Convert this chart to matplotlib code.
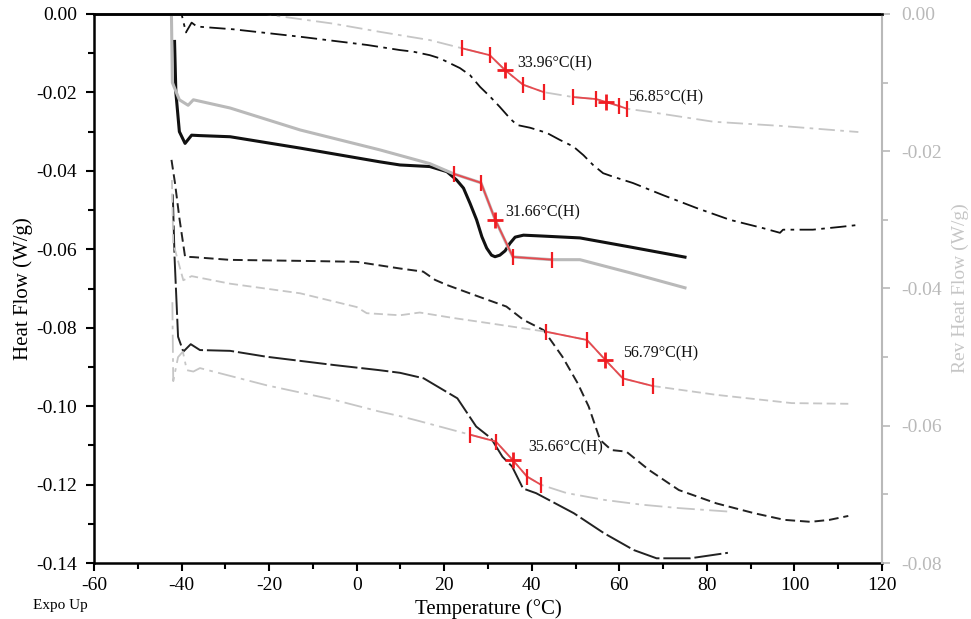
import matplotlib
matplotlib.use("Agg")
import matplotlib.pyplot as plt
from matplotlib.ticker import MultipleLocator, FuncFormatter

plt.rcParams['font.family'] = ['Liberation Serif', 'DejaVu Serif']
plt.rcParams['axes.unicode_minus'] = False

# ---------------- data ----------------
# Sample 1 (dash-dot)
t1_hf = [-40.6, -40.0, -39.0, -37.7, -36.5, -28.2, -12.9, 2.4, 9.9, 12.9, 16.7, 19.0, 23.6, 25.9, 28.2,
         30.5, 32.7, 35.0, 36.6, 39.6, 43.4, 46.4, 49.5, 51.8, 54.0, 56.3, 58.6, 63.1, 70.0, 77.7, 85.3,
         92.8, 96.7, 97.4, 104.2, 110.4, 114.5]
hf1 = [0.003, 0.0, -0.0047, -0.0022, -0.0032, -0.0039, -0.0058, -0.0079, -0.0092, -0.0096, -0.0105,
       -0.0113, -0.0138, -0.0156, -0.0186, -0.0211, -0.0237, -0.0266, -0.0283, -0.0290, -0.0303,
       -0.0321, -0.0338, -0.0360, -0.0385, -0.0406, -0.0415, -0.0431, -0.0462, -0.0495, -0.0525,
       -0.0546, -0.0558, -0.0550, -0.0550, -0.0543, -0.0538]
t1_rev = [-30.0, -19.1, -5.4, 5.3, 16.7, 24.1, 30.4, 34.0, 38.0, 42.8, 49.4, 54.7, 56.9, 59.9, 61.7,
          66.2, 81.5, 96.7, 114.6]
rev1 = [0.0012, -0.0002, -0.0014, -0.0026, -0.0038, -0.0050, -0.0060, -0.0083, -0.0103, -0.0114,
        -0.0121, -0.0124, -0.0128, -0.0134, -0.0138, -0.0142, -0.0157, -0.0163, -0.0172]

# Sample 2 (solid)
t2_hf = [-41.6, -41.3, -40.5, -39.2, -37.7, -36.0, -28.9, -12.9, 5.3, 9.9, 16.7, 20.6, 22.8, 24.4, 25.9,
         27.4, 28.6, 29.7, 30.8, 31.6, 32.7, 33.9, 35.0, 36.2, 38.1, 42.0, 51.0, 62.4, 75.0]
hf2 = [-0.007, -0.020, -0.030, -0.0330, -0.0309, -0.0310, -0.0313, -0.0342, -0.0377, -0.0385, -0.0389,
       -0.0402, -0.0423, -0.0444, -0.0483, -0.0525, -0.0568, -0.0597, -0.0615, -0.0619, -0.0615,
       -0.0604, -0.0585, -0.0569, -0.0564, -0.0566, -0.0571, -0.0594, -0.0620]
t2_rev = [-42.3, -42.1, -40.5, -38.5, -37.3, -28.9, -12.9, 5.3, 16.7, 22.2, 28.4, 31.66, 34.6, 35.7,
          44.6, 51.0, 62.4, 75.0]
rev2 = [-0.0005, -0.0100, -0.0125, -0.0133, -0.0125, -0.0137, -0.0169, -0.0198, -0.0218, -0.0233,
        -0.0246, -0.0300, -0.0340, -0.0354, -0.0358, -0.0358, -0.0377, -0.0399]

# Sample 3 (dashed)
t3_hf = [-42.3, -41.5, -40.5, -39.2, -37.3, -28.9, -10.0, 0.0, 9.9, 15.2, 17.9, 20.6, 28.2, 34.2, 38.1,
         42.7, 47.0, 50.5, 53.0, 55.6, 58.2, 61.6, 66.8, 73.6, 82.2, 90.8, 97.7, 103.7, 108.0, 112.3]
hf3 = [-0.0372, -0.0431, -0.0520, -0.0619, -0.0620, -0.0627, -0.0630, -0.0632, -0.0649, -0.0657,
       -0.0678, -0.0691, -0.0722, -0.0746, -0.0780, -0.0806, -0.0874, -0.0942, -0.1001, -0.1086,
       -0.1112, -0.1116, -0.1163, -0.1214, -0.1248, -0.1273, -0.1290, -0.1295, -0.1290, -0.1280]
t3_rev = [-42.2, -41.9, -39.6, -37.7, -28.9, -12.9, 0.0, 2.3, 9.9, 14.4, 22.1, 30.7, 43.3, 52.6, 56.79,
          60.8, 67.6, 82.2, 99.4, 112.3]
rev3 = [-0.0242, -0.0334, -0.0388, -0.0382, -0.0393, -0.0407, -0.0427, -0.0436, -0.0439, -0.0435,
        -0.0443, -0.0451, -0.0463, -0.0475, -0.0504, -0.0531, -0.0542, -0.0555, -0.0567, -0.0568]

# Sample 4 (long dash)
t4_hf = [-42.0, -41.6, -40.8, -39.6, -37.9, -35.8, -28.9, -20.6, -5.3, 5.0, 9.9, 15.3, 23.0, 27.3, 30.7,
         33.3, 35.5, 38.0, 41.0, 49.6, 56.5, 63.3, 68.5, 76.2, 84.8]
hf4 = [-0.046, -0.062, -0.0823, -0.0861, -0.0842, -0.0857, -0.0859, -0.0874, -0.0895, -0.0908, -0.0915,
       -0.0929, -0.0980, -0.1052, -0.1082, -0.1129, -0.1154, -0.1210, -0.1222, -0.1273, -0.1324,
       -0.1367, -0.1388, -0.1388, -0.1374]
t4_rev = [-42.1, -41.9, -40.8, -39.7, -38.8, -37.3, -35.8, -20.6, -5.3, 5.0, 9.9, 13.6, 25.9, 31.8,
          35.66, 38.9, 42.1, 47.9, 56.5, 65.1, 73.6, 84.8]
rev4 = [-0.0420, -0.0535, -0.0500, -0.0492, -0.0519, -0.0521, -0.0516, -0.0541, -0.0562, -0.0579,
        -0.0586, -0.0592, -0.0613, -0.0623, -0.0650, -0.0674, -0.0686, -0.0698, -0.0708, -0.0715,
        -0.0720, -0.0725]

# Glass-transition analysis marks (on Rev Heat Flow curves)
tg_labels = ["33.96°C(H)", "56.85°C(H)", "31.66°C(H)", "56.79°C(H)", "35.66°C(H)"]
tg_t = [[24.1, 30.4, 33.96, 38.0, 42.8],
        [49.4, 54.7, 56.85, 59.9, 61.7],
        [22.2, 28.4, 31.66, 35.7, 44.6],
        [43.3, 52.6, 56.79, 60.8, 67.6],
        [25.9, 31.8, 35.66, 38.9, 42.1]]
tg_rev = [[-0.0050, -0.0060, -0.0082, -0.0103, -0.0114],
          [-0.0121, -0.0124, -0.0128, -0.0134, -0.0138],
          [-0.0233, -0.0246, -0.0300, -0.0354, -0.0358],
          [-0.0463, -0.0475, -0.0504, -0.0531, -0.0542],
          [-0.0613, -0.0623, -0.0650, -0.0674, -0.0686]]

x_ticks = [-60, -40, -20, 0, 20, 40, 60, 80, 100, 120]
hf_ticks = [0.00, -0.02, -0.04, -0.06, -0.08, -0.10, -0.12, -0.14]
rev_ticks = [0.00, -0.02, -0.04, -0.06, -0.08]

# ---------------- figure ----------------
W, H = 971, 619
fig = plt.figure(figsize=(W / 100, H / 100), dpi=100)
ax = fig.add_axes([94 / W, 1 - 563 / H, (882 - 94) / W, (563 - 14) / H])
ax2 = ax.twinx()

GRAY = '#b9b9b9'
GRAY_L = '#c6c6c6'
BLACK = '#111111'

# Heat flow curves (left axis)
ax.plot(t1_hf, hf1, color=BLACK, lw=1.3, dashes=(9, 3, 2, 3))
ax.plot(t2_hf, hf2, color=BLACK, lw=2.2, solid_joinstyle='round')
ax.plot(t3_hf, hf3, color='#222222', lw=1.4, dashes=(5, 2.5))
ax.plot(t4_hf, hf4, color='#222222', lw=1.4, dashes=(14, 2))

# Rev heat flow curves (right axis)
ax2.plot(t1_rev, rev1, color=GRAY_L, lw=1.3, dashes=(9, 3, 2, 3))
ax2.plot(t2_rev, rev2, color=GRAY, lw=2.2, solid_joinstyle='round')
ax2.plot(t3_rev, rev3, color=GRAY_L, lw=1.3, dashes=(5, 2.5))
ax2.plot(t4_rev, rev4, color=GRAY_L, lw=1.3, dashes=(10, 3, 2, 3))

# Red Tg analysis marks
for tt, rr in zip(tg_t, tg_rev):
    ax2.plot(tt, rr, color='#e64a4f', lw=1.3, zorder=5)
    ends = [0, 1, 3, 4]
    ax2.plot([tt[i] for i in ends], [rr[i] for i in ends], ls='none', marker='|',
             ms=11, mew=1.6, color='#f01c22', zorder=6)
    ax2.plot([tt[2]], [rr[2]], ls='none', marker='+', ms=11, mew=2.0, color='#f01c22', zorder=6)

label_pos = [(36.6, -0.0072), (62.0, -0.0121), (33.9, -0.0289), (60.8, -0.0495), (39.1, -0.0631)]
for txt, (x, y) in zip(tg_labels, label_pos):
    ax2.text(x, y, txt, fontsize=11.5, ha='left', va='center', color='#111111')

# Axes limits / ticks
ax.set_xlim(-60, 120)
ax.set_ylim(-0.14, 0.0)
ax2.set_ylim(-0.08, 0.0)

fmt2 = FuncFormatter(lambda v, p: "0.00" if abs(v) < 1e-9 else f"{v:.2f}")
ax.set_xticks(x_ticks)
ax.set_xticklabels([str(v) for v in x_ticks])
ax.xaxis.set_minor_locator(MultipleLocator(10))
ax.set_yticks(hf_ticks)
ax.yaxis.set_major_formatter(fmt2)
ax.yaxis.set_minor_locator(MultipleLocator(0.01))
ax2.set_yticks(rev_ticks)
ax2.yaxis.set_major_formatter(fmt2)
ax2.yaxis.set_minor_locator(MultipleLocator(0.01))

ax.tick_params(axis='both', which='major', direction='out', length=6, width=1.5,
               labelsize=14, color='black', pad=4)
ax.tick_params(axis='both', which='minor', direction='out', length=4, width=1.5, color='black')
ax.tick_params(axis='y', which='major', pad=6)
ax2.tick_params(axis='y', which='major', direction='out', length=6, width=1.2,
                labelsize=14, color=GRAY, labelcolor=GRAY, pad=8)
ax2.tick_params(axis='y', which='minor', direction='out', length=4, width=1.2, color=GRAY)

for s in ['left', 'bottom', 'top']:
    ax.spines[s].set_linewidth(1.8)
    ax.spines[s].set_color('black')
    ax2.spines[s].set_visible(False)
ax.spines['right'].set_visible(False)
ax2.spines['right'].set_color(GRAY)
ax2.spines['right'].set_linewidth(1.5)
ax2.spines['top'].set_visible(True)
ax2.spines['top'].set_linewidth(1.8)
ax2.spines['top'].set_color('black')

ax.set_xlabel("Temperature (°C)", fontsize=15)
ax.set_ylabel("Heat Flow (W/g)", fontsize=15)
ax.yaxis.set_label_coords(-0.077, 0.5)
ax2.set_ylabel("Rev Heat Flow (W/g)", fontsize=14, color=GRAY_L)
ax2.yaxis.set_label_coords(1.089, 0.5)

fig.text(33 / W, 1 - 605 / H, "Expo Up", fontsize=11, ha='left', va='center')

fig.savefig("out.png", dpi=100)
